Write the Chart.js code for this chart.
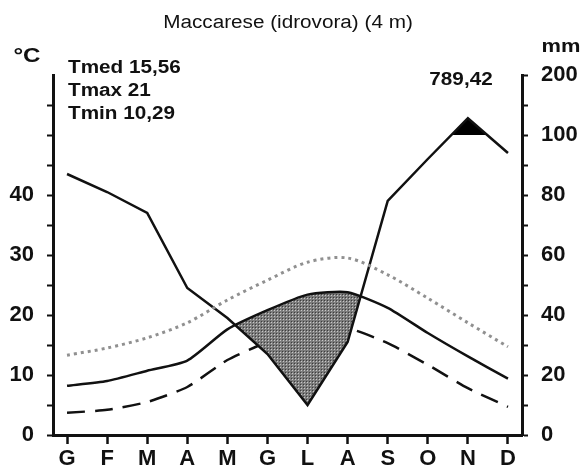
<!DOCTYPE html>
<html>
<head>
<meta charset="utf-8">
<script src="https://cdn.jsdelivr.net/npm/chart.js@4.4.0/dist/chart.umd.min.js"></script>
<style>
  html, body { margin: 0; padding: 0; background: #fff; }
</style>
</head>
<body>
<canvas id="climaChart" width="587" height="470"></canvas>
<script>
// monthly data, Maccarese (idrovora)
const months = ['G', 'F', 'M', 'A', 'M', 'G', 'L', 'A', 'S', 'O', 'N', 'D'];
const tMean = [8.2, 9.0, 10.7, 12.4, 17.6, 20.8, 23.4, 23.8, 21.2, 17.0, 13.1, 9.4];
const tMax = [13.3, 14.5, 16.2, 18.7, 22.5, 25.8, 28.8, 29.5, 26.7, 22.8, 18.7, 14.7];
const tMin = [3.7, 4.2, 5.5, 8.0, 12.5, 15.5, 17.5, 17.8, 15.3, 11.7, 7.8, 4.7];
const precip = [87, 81, 74, 49, 39, 27, 10, 31, 78, 92, 128, 94];

const tempTicks = [0, 5, 10, 15, 20, 25, 30, 35, 40, 45, 50, 55];
const tempLabels = [0, 10, 20, 30, 40];
const precipTicks = [0, 10, 20, 30, 40, 50, 60, 70, 80, 90, 100, 150, 200];
const precipLabels = [0, 20, 40, 60, 80, 100, 200];

const stationTitle = 'Maccarese (idrovora) (4 m)';
const statLines = ['Tmed 15,56', 'Tmax 21', 'Tmin 10,29'];
const precipTotal = '789,42';

// Walter-Lieth precipitation scale: 2 mm per °C up to 100 mm, compressed 1:10 above
class WalterScale extends Chart.LinearScale {
    getPixelForValue(v) {
        if (v === null || v === undefined) return NaN;
        const t = v <= 100 ? v / 2 : 50 + (v - 100) / 10;
        return this.getPixelForDecimal(t / 60);
    }
    getValueForPixel(p) {
        const t = this.getDecimalForPixel(p) * 60;
        return t <= 50 ? t * 2 : 100 + (t - 50) * 10;
    }
}
WalterScale.id = 'walter';
WalterScale.defaults = Chart.LinearScale.defaults;
Chart.register(WalterScale);

// grey dotted texture for the dry period
function makePattern() {
    const c = document.createElement('canvas');
    c.width = 3; c.height = 3;
    const g = c.getContext('2d');
    g.fillStyle = '#7c7c7c';
    g.fillRect(0, 0, 3, 3);
    g.fillStyle = '#c8c8c8';
    g.fillRect(1, 1, 1, 1);
    g.fillStyle = '#3c3c3c';
    g.fillRect(0, 0, 1, 1);
    return g.createPattern(c, 'repeat');
}

const pts = arr => arr.map((v, i) => ({ x: i, y: v }));
const ink = '#111';
const tickFont = { family: '"Liberation Sans", Arial, sans-serif', size: 22, weight: 'bold' };

const textPlugin = {
    id: 'climaTexts',
    afterDraw(chart) {
        const ctx = chart.ctx;
        const put = (txt, x, y, size, bold, align) => {
            ctx.save();
            ctx.font = (bold ? 'bold ' : '') + size + 'px "Liberation Sans", Arial, sans-serif';
            ctx.fillStyle = ink;
            ctx.textBaseline = 'middle';
            ctx.textAlign = align;
            ctx.translate(x, y);
            ctx.scale(1.15, 1);
            ctx.fillText(txt, 0, 0);
            ctx.restore();
        };
        put(stationTitle, 288, 23, 18, false, 'center');
        put('°C', 27, 56, 21, true, 'center');
        put('mm', 561, 47, 19, true, 'center');
        put(precipTotal, 461, 80, 18, true, 'center');
        statLines.forEach((s, i) => put(s, 68, 68 + i * 23, 18, true, 'left'));
    }
};

const ctx = document.getElementById('climaChart').getContext('2d');
new Chart(ctx, {
    type: 'line',
    data: {
        datasets: [
            {
                label: 'Tmed',
                data: pts(tMean),
                yAxisID: 'y',
                borderColor: ink,
                borderWidth: 2.5,
                tension: 0.2,
                fill: false,
                order: 1
            },
            {
                label: 'Tmax',
                data: pts(tMax),
                yAxisID: 'y',
                borderColor: '#909090',
                borderWidth: 3,
                borderDash: [3, 4],
                tension: 0.3,
                fill: false,
                order: 2
            },
            {
                label: 'Tmin',
                data: pts(tMin),
                yAxisID: 'y',
                borderColor: ink,
                borderWidth: 2.5,
                borderDash: [18, 10],
                tension: 0.2,
                fill: false,
                order: 6
            },
            {
                label: 'Precipitazioni',
                data: pts(precip),
                yAxisID: 'yP',
                borderColor: ink,
                borderWidth: 2.5,
                tension: 0,
                fill: { target: 0, above: 'rgba(0,0,0,0)', below: makePattern() },
                order: 3
            },
            {
                label: 'Precipitazioni > 100',
                data: pts(precip),
                yAxisID: 'yP',
                borderWidth: 0,
                borderColor: 'rgba(0,0,0,0)',
                tension: 0,
                fill: { target: { value: 100 }, above: '#000', below: 'rgba(0,0,0,0)' },
                order: 4
            }
        ]
    },
    options: {
        responsive: false,
        devicePixelRatio: 1,
        animation: false,
        layout: { padding: { top: 75, left: 0, right: 0, bottom: 0 } },
        elements: { point: { radius: 0 } },
        plugins: {
            legend: { display: false },
            title: { display: false },
            tooltip: { enabled: false }
        },
        scales: {
            x: {
                type: 'linear',
                position: 'bottom',
                min: -0.35,
                max: 11.35,
                afterBuildTicks: axis => { axis.ticks = months.map((m, i) => ({ value: i })); },
                afterFit: axis => { axis.height = 35; },
                ticks: {
                    autoSkip: false,
                    maxRotation: 0,
                    padding: 2,
                    color: ink,
                    font: tickFont,
                    callback: v => months[v]
                },
                grid: { drawOnChartArea: false, tickLength: 9, tickWidth: 2.5, tickColor: ink },
                border: { display: true, color: ink, width: 3 }
            },
            y: {
                position: 'left',
                min: 0,
                max: 60,
                afterBuildTicks: axis => { axis.ticks = tempTicks.map(v => ({ value: v })); },
                afterFit: axis => { axis.width = 53; },
                ticks: {
                    padding: 13,
                    color: ink,
                    font: tickFont,
                    callback: v => tempLabels.includes(v) ? String(v) : ''
                },
                grid: { drawOnChartArea: false, tickLength: 6, tickWidth: 2, tickColor: ink },
                border: { display: true, color: ink, width: 3 }
            },
            yP: {
                type: 'walter',
                position: 'right',
                min: 0,
                max: 200,
                afterBuildTicks: axis => { axis.ticks = precipTicks.map(v => ({ value: v })); },
                afterFit: axis => { axis.width = 65; },
                ticks: {
                    padding: 13,
                    color: ink,
                    font: tickFont,
                    callback: v => precipLabels.includes(v) ? String(v) : ''
                },
                grid: { drawOnChartArea: false, tickLength: 6, tickWidth: 2, tickColor: ink },
                border: { display: true, color: ink, width: 3 }
            }
        }
    },
    plugins: [textPlugin]
});
</script>
</body>
</html>
